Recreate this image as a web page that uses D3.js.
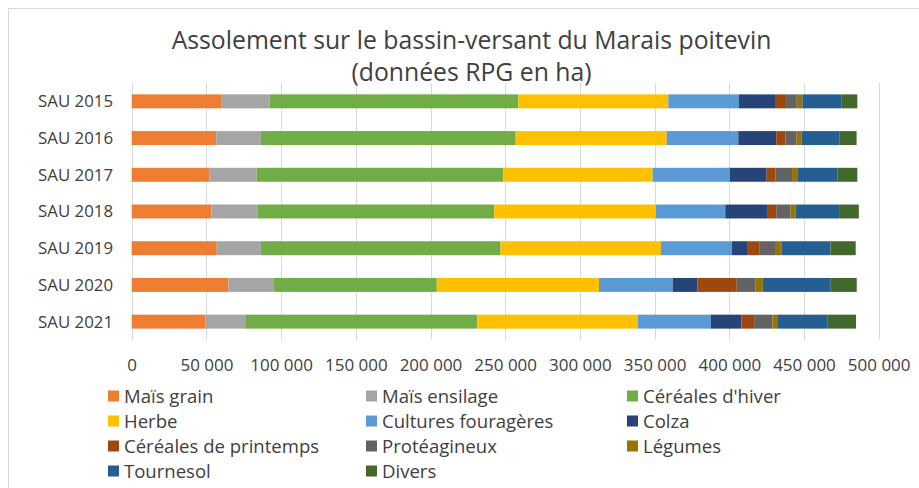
<!DOCTYPE html>
<html><head><meta charset="utf-8">
<script src="https://cdn.jsdelivr.net/npm/d3@7"></script>
<style>body{margin:0;background:#fff}svg{display:block}text{font-family:"Open Sans",sans-serif;fill:#404040}</style>
</head><body>
<script>
const years = ["SAU 2015","SAU 2016","SAU 2017","SAU 2018","SAU 2019","SAU 2020","SAU 2021"];
const seriesNames = ["Maïs grain","Maïs ensilage","Céréales d'hiver","Herbe","Cultures fouragères","Colza","Céréales de printemps","Protéagineux","Légumes","Tournesol","Divers"];
const maisGrain     = [59800, 56600, 51900, 53300, 56900, 64700, 49500];
const maisEnsilage  = [32600, 29900, 31700, 30800, 29600, 30600, 26500];
const cerealesHiver = [166400,170500,165100,158600,160400,108900,155300];
const herbe         = [100400,101100,100000,108200,107300,108600,107400];
const culturesFour  = [47300, 47900, 51700, 46400, 47500, 49300, 48900];
const colza         = [24100, 25400, 24600, 27900, 10700, 16500, 20500];
const cerealesPrint = [7400, 6300, 5800, 6200, 8000, 26400, 8500];
const proteagineux  = [7200, 7400, 11200, 9600, 10200, 12400, 12200];
const legumes       = [3700, 3300, 3500, 3300, 4300, 5000, 3800];
const tournesol     = [26400, 25200, 26800, 29200, 32800, 45500, 33300];
const divers        = [10400, 11600, 13400, 13200, 16900, 17400, 18900];
const tickValues = [0,50000,100000,150000,200000,250000,300000,350000,400000,450000,500000];
const colors = ["#ED7D31","#A5A5A5","#70AD47","#FFC000","#5B9BD5","#264478","#9E480E","#636363","#997300","#255E91","#43682B"];

const seriesValues = [maisGrain,maisEnsilage,cerealesHiver,herbe,culturesFour,colza,cerealesPrint,proteagineux,legumes,tournesol,divers];
const rows = years.map((y,i)=>{const o={year:y}; seriesNames.forEach((s,k)=>o[s]=seriesValues[k][i]); return o;});

const W=919,H=488;
const svg=d3.select("body").append("svg").attr("width",W).attr("height",H);
svg.append("rect").attr("x",8.5).attr("y",8.5).attr("width",1000).attr("height",1000).attr("fill","#fff").attr("stroke","#d9d9d9");

const x=d3.scaleLinear().domain([0,500000]).range([131.7,878.7]);
const y=d3.scaleBand().domain(years).range([83,340]).paddingInner(0.62).paddingOuter(0.31);

function fit(sel,target){const w=sel.node().getComputedTextLength();const fs=parseFloat(sel.attr("font-size"));return fs*target/w;}

// gridlines
svg.append("g").selectAll("line").data(tickValues).join("line")
  .attr("x1",d=>Math.round(x(d))+0.5).attr("x2",d=>Math.round(x(d))+0.5)
  .attr("y1",83).attr("y2",340).attr("stroke","#d9d9d9").attr("stroke-width",1);

// stacks
const stack=d3.stack().keys(seriesNames)(rows);
svg.append("g").selectAll("g").data(stack).join("g").attr("fill",(d,i)=>colors[i])
  .selectAll("rect").data(d=>d).join("rect")
  .attr("x",d=>x(d[0])).attr("width",d=>x(d[1])-x(d[0]))
  .attr("y",d=>y(d.data.year)).attr("height",y.bandwidth());

// title
const t1=svg.append("text").attr("x",471.5).attr("y",49).attr("text-anchor","middle").attr("font-size",22).attr("fill","#262626").text("Assolement sur le bassin-versant du Marais poitevin");
const tfs=fit(t1,600); t1.attr("font-size",tfs);
svg.append("text").attr("x",471.5).attr("y",81).attr("text-anchor","middle").attr("font-size",tfs).attr("fill","#262626").text("(données RPG en ha)");

// y axis labels
const yAxis=d3.axisLeft(y).tickSize(0).tickPadding(0);
const gy=svg.append("g").attr("transform","translate(113,0)").call(yAxis);
gy.select(".domain").remove();
gy.selectAll("text").attr("font-size",16).attr("fill","#404040").style("font-family","'Open Sans',sans-serif");
const yfs=fit(gy.select("text"),75); gy.selectAll("text").attr("font-size",yfs).attr("dy","0.35em");

// x axis labels
const fmt=d=>d3.format(",")(d).replace(/,/g," ");
const xAxis=d3.axisBottom(x).tickValues(tickValues).tickFormat(fmt).tickSize(0).tickPadding(0);
const gx=svg.append("g").attr("transform","translate(0,365)").call(xAxis);
gx.select(".domain").remove();
gx.selectAll("text").attr("font-size",15).attr("fill","#404040").attr("dy","0.35em").style("font-family","'Open Sans',sans-serif");
const xfs=fit(gx.selectAll("text").filter(d=>d===50000),53); gx.selectAll("text").attr("font-size",xfs);

// legend
const colX=[108,366,627], rowY=[396,421,446,471];
const lg=svg.append("g").selectAll("g").data(seriesNames).join("g")
  .attr("transform",(d,i)=>`translate(${colX[i%3]},${rowY[Math.floor(i/3)]})`);
lg.append("rect").attr("x",0).attr("y",-5.5).attr("width",11).attr("height",11).attr("fill",(d,i)=>colors[i]);
const lt=lg.append("text").attr("x",16).attr("dy","0.35em").attr("font-size",18).text(d=>d);
const lfs=fit(lt.filter((d,i)=>i===2),138); lt.attr("font-size",lfs);
</script>
</body></html>
